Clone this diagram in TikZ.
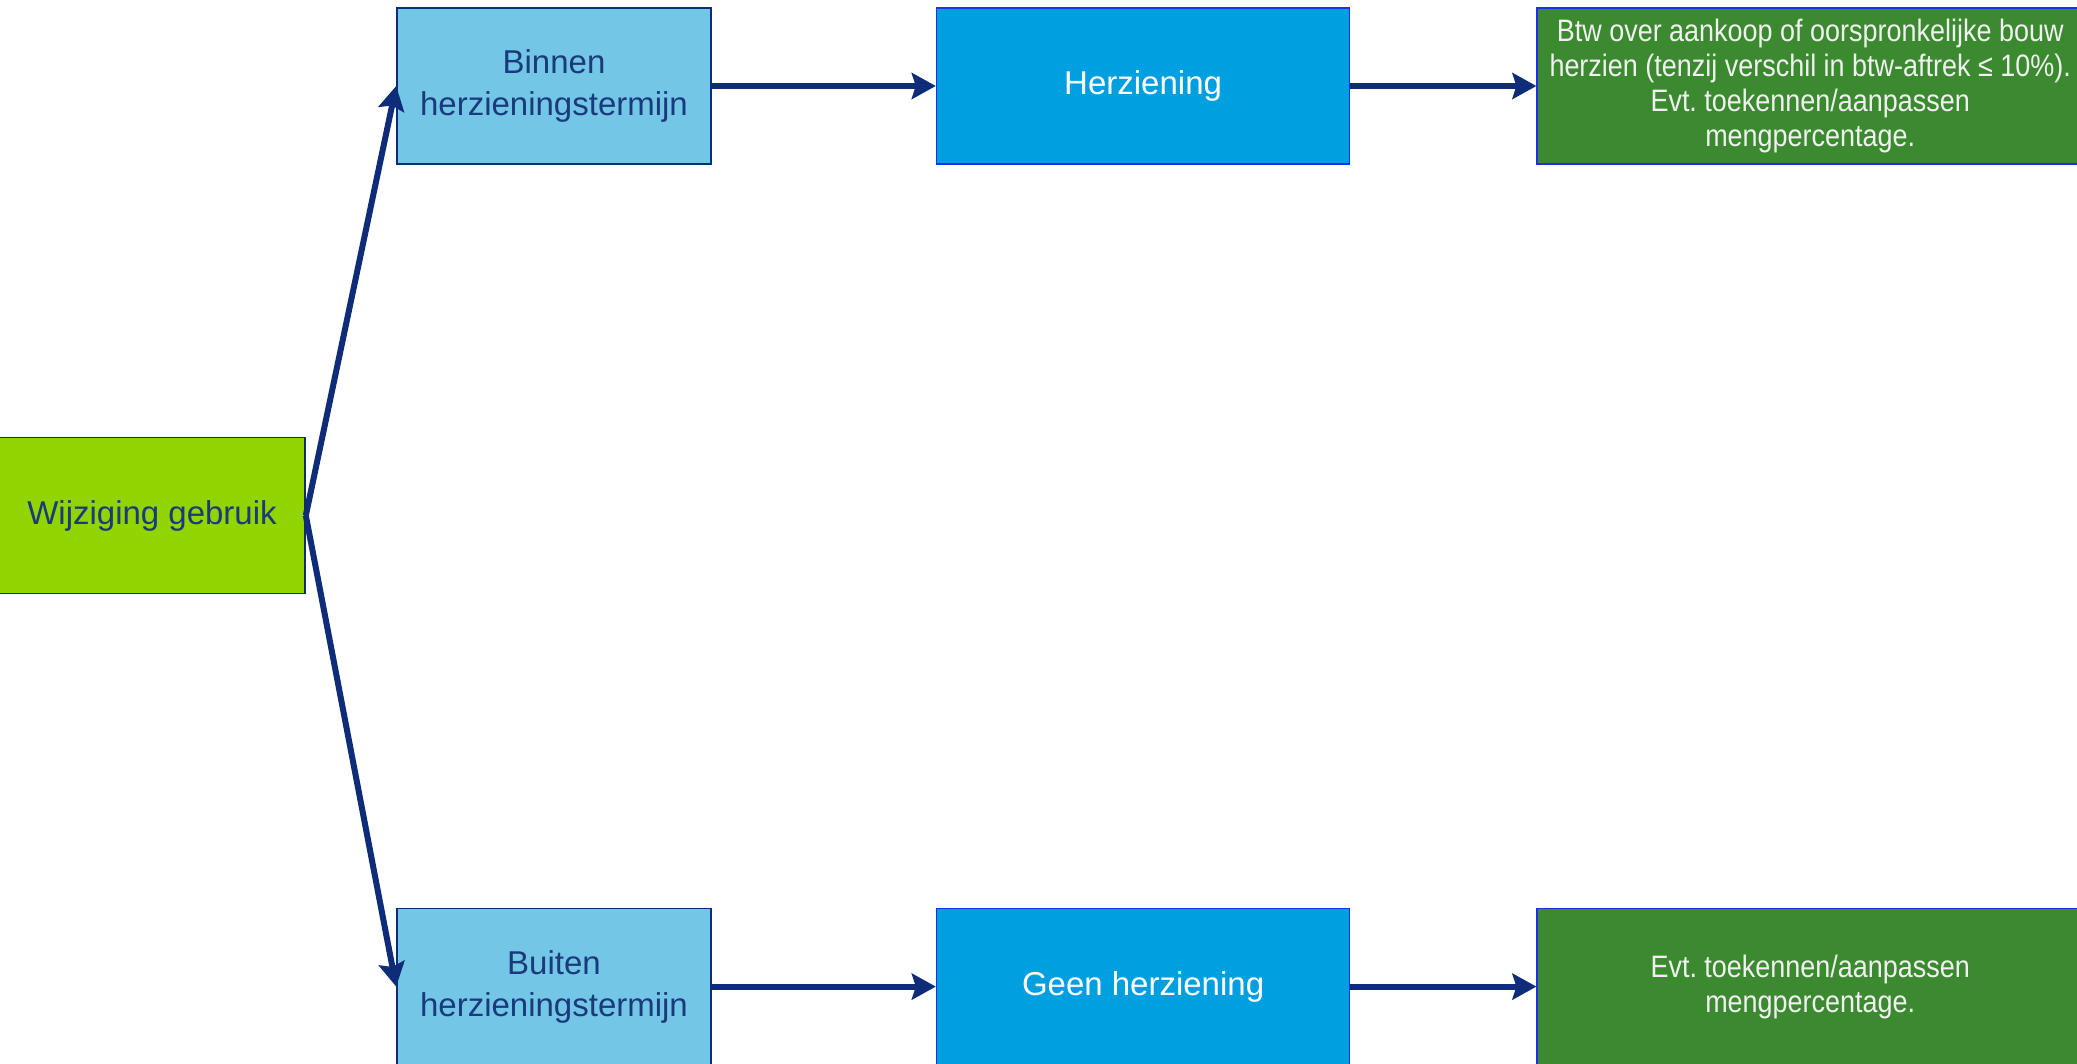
\documentclass[tikz,border=0pt]{standalone}
\usepackage{fontspec}
\setmainfont{Liberation Sans}
\newfontfamily\narrowsans[FakeStretch=0.87]{Liberation Sans}
\usepackage{tikz}
\usetikzlibrary{positioning,arrows.meta}
\definecolor{limegreen}{HTML}{92D400}
\definecolor{lightblue}{HTML}{73C6E6}
\definecolor{midblue}{HTML}{009FE0}
\definecolor{darkgreen}{HTML}{3C8A30}
\definecolor{navyline}{HTML}{0E2C78}
\definecolor{navytext}{HTML}{1B3A7C}
\definecolor{brightblue}{HTML}{1C30E8}
\newcommand{\boxfont}{\fontsize{16.5}{21}\selectfont}
\newcommand{\effectfont}{\narrowsans\frenchspacing\fontsize{15.5}{17.5}\selectfont}

\begin{document}
\begin{tikzpicture}[
    >={Stealth[length=12pt,width=13pt,inset=2pt]},
    every edge/.style={<-, draw=navyline, line width=3pt},
    period/.style={fill=lightblue, minimum width=157pt},
    review/.style={fill=midblue, draw=brightblue, text=white, minimum width=206.5pt},
    effect/.style={fill=darkgreen, draw=brightblue, text=white!94!black,
                   font=\effectfont, minimum width=273pt},
    every node/.style={ draw=navyline,
                        line width=0.8pt,
                        rectangle,
                        align=center,
                        font=\boxfont,
                        text=navytext,
                        minimum height=78pt,
                        inner sep=2pt}]

    \useasboundingbox (0,0) rectangle (1038.5pt,-532pt);

    \node[fill=limegreen, minimum width=153pt] (wijz) at (76pt,-257.75pt) {Wijziging gebruik};

    \node[period] (bin) at (277pt,-43pt) {Binnen\\herzieningstermijn};
    \node[review, right=112pt of bin] (her) {Herziening} edge (bin);
    \node[effect, right=93pt of her] (btw) {Btw over aankoop of oorspronkelijke bouw\\herzien (tenzij verschil in btw-aftrek ≤ 10\%).\\Evt. toekennen/aanpassen\\mengpercentage.} edge (her);

    \node[period, below=371.5pt of bin] (bui) {Buiten\\herzieningstermijn};
    \node[review, right=112pt of bui] (gee) {Geen herziening} edge (bui);
    \node[effect, right=93pt of gee] (evt) {Evt. toekennen/aanpassen\\mengpercentage.} edge (gee);

    \path (bin.west) edge (wijz.east);
    \path (bui.west) edge (wijz.east);

\end{tikzpicture}
\end{document}
